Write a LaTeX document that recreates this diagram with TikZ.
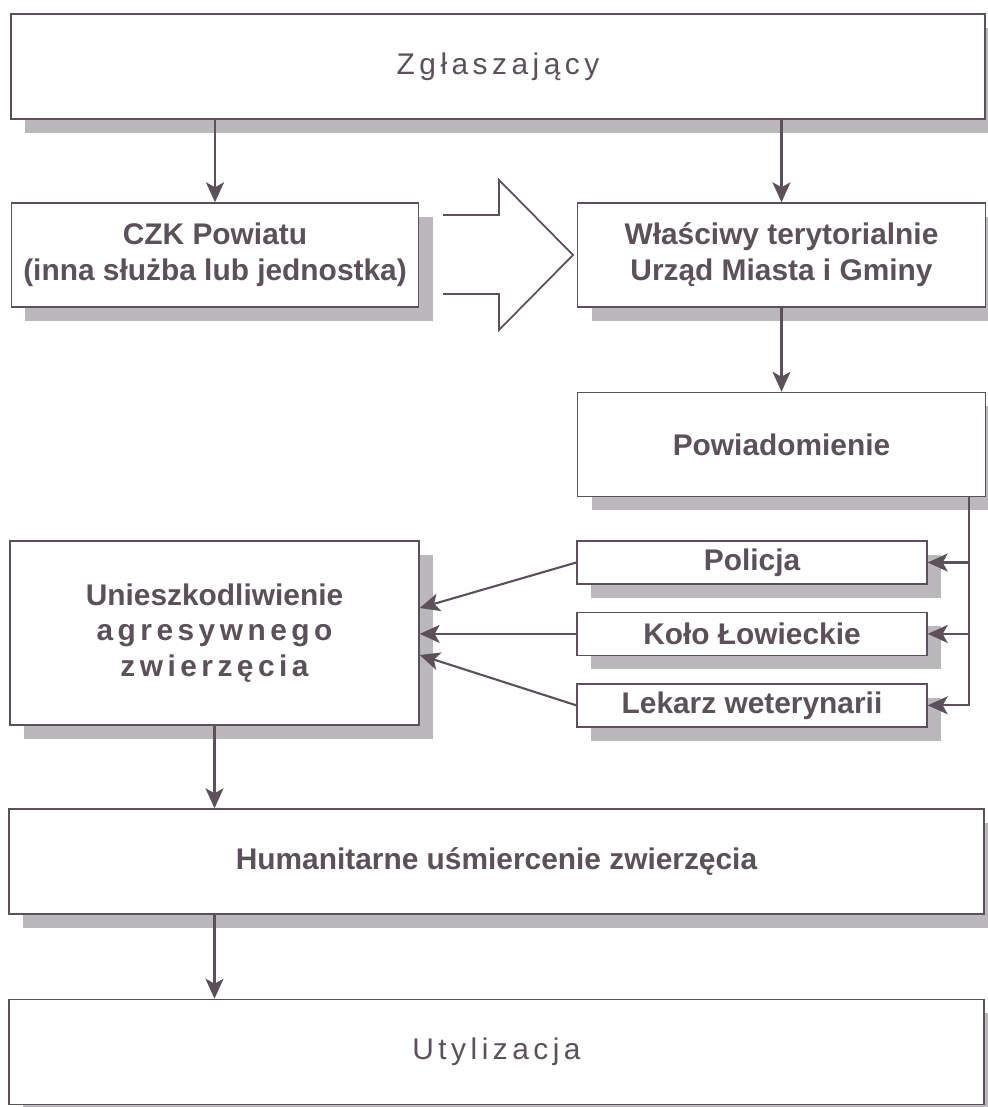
\documentclass[tikz,border=0pt]{standalone}
\usepackage{fontspec}
\setmainfont{Liberation Sans}
\newfontfamily\spacedfont[LetterSpace=15]{Liberation Sans}
\usepackage{xcolor}
\usetikzlibrary{arrows.meta,positioning,shadows}
\definecolor{ink}{RGB}{92,80,90}
\definecolor{shade}{RGB}{186,184,186}

\begin{document}
\begin{tikzpicture}[node distance=0.54cm]
        % Define styles
        \tikzset{
            stage/.style={rectangle, draw=ink, line width=0.8pt, fill=white, text=ink, align=center, inner sep=0pt,
                font=\fontsize{17}{20.5}\selectfont\bfseries,
                drop shadow={shadow xshift=0.28cm, shadow yshift=-0.28cm, fill=shade, opacity=1}},
            widebox/.style={stage, minimum width=19.48cm, minimum height=2.1cm},
            halfbox/.style={stage, minimum width=8.15cm, minimum height=2.08cm},
            smallbox/.style={stage, minimum width=7cm, minimum height=0.86cm},
            arrow/.style={draw=ink, line width=1.2pt, -{Stealth[length=0.4cm, width=0.36cm, inset=0.1cm]}}
        }
        \useasboundingbox (0,0) rectangle (19.74,-22.14);

        % Create nodes
        \node [widebox, font=\fontsize{17}{20.5}\spacedfont] (zgl) at (9.96,-1.33) {Zgłaszający};
        \node [halfbox] (czk) at (4.30,-5.10) {CZK Powiatu\\(inna służba lub jednostka)};
        \node [halfbox] (urzad) at (15.63,-5.10) {Właściwy terytorialnie\\Urząd Miasta i Gminy};
        \node [halfbox, below=1.68cm of urzad] (powiad) {Powiadomienie};
        \node [smallbox] (policja) at (15.04,-11.25) {Policja};
        \node [smallbox, below=of policja] (kolo) {Koło Łowieckie};
        \node [smallbox, below=of kolo] (lekarz) {Lekarz weterynarii};
        \node [stage, minimum width=8.18cm, minimum height=3.68cm, font=\fontsize{17}{20}\selectfont\bfseries] (unieszk) at (4.29,-12.66)
            {Unieszkodliwienie\\{\spacedfont\bfseries agresywnego}\\{\spacedfont\bfseries zwierzęcia}};
        \node [widebox, minimum width=19.5cm] (humanit) at (9.93,-17.23) {Humanitarne uśmiercenie zwierzęcia};
        \node [widebox, minimum width=19.5cm, below=1.68cm of humanit, font=\fontsize{17}{20.5}\spacedfont] (utyl) {Utylizacja};

        % Block arrow between the two upper boxes
        \draw [draw=ink, line width=1pt] (8.86,-4.30) -- (9.98,-4.30) -- (9.98,-3.60) -- (11.46,-5.10)
            -- (9.98,-6.60) -- (9.98,-5.88) -- (8.86,-5.88);

        % Create arrows
        \draw [arrow] (zgl.south -| czk.north) -- (czk.north);
        \draw [arrow] (zgl.south -| urzad.north) -- (urzad.north);
        \draw [arrow] (urzad) -- (powiad);
        \coordinate (bus) at ([xshift=-0.34cm]powiad.south east);
        \draw [arrow] (bus) |- (policja.east);
        \draw [arrow] (bus) |- (kolo.east);
        \draw [arrow] (bus) |- (lekarz.east);
        \draw [arrow] (policja.west) -- ([yshift=0.5cm]unieszk.east);
        \draw [arrow] (kolo.west) -- (kolo.west -| unieszk.east);
        \draw [arrow] (lekarz.west) -- ([yshift=-0.44cm]unieszk.east);
        \draw [arrow] (unieszk) -- (unieszk |- humanit.north);
        \draw [arrow] (humanit.south -| unieszk) -- (utyl.north -| unieszk);
    \end{tikzpicture}
\end{document}
